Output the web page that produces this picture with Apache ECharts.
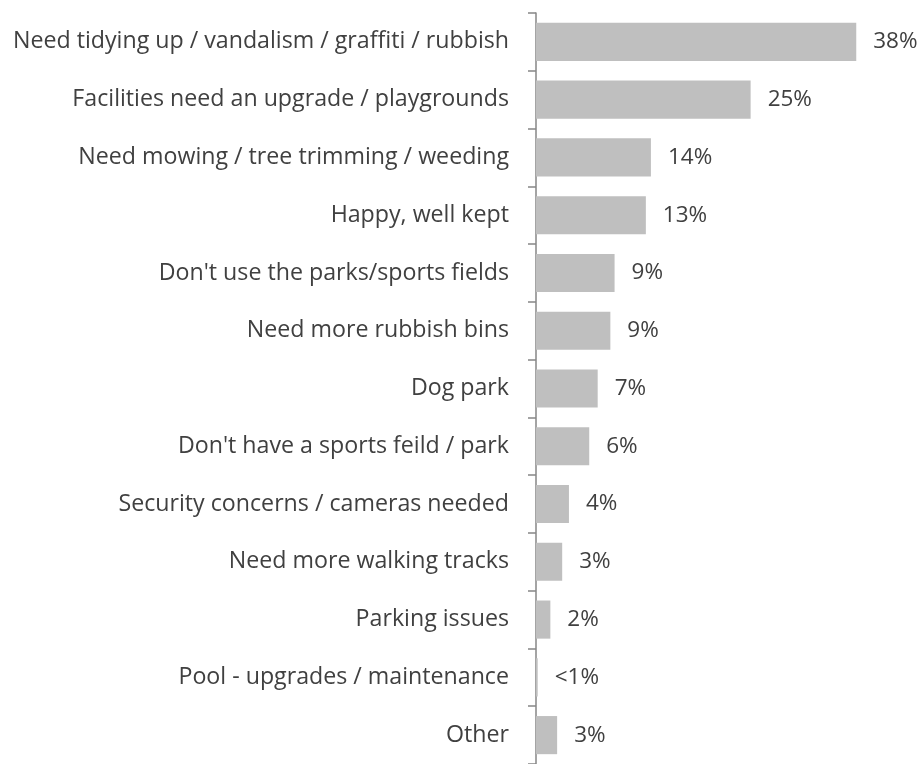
<!DOCTYPE html>
<html>
<head>
<meta charset="utf-8">
<script src="https://cdn.jsdelivr.net/npm/echarts@6/dist/echarts.min.js"></script>
<style>
  html, body { margin: 0; padding: 0; background: #fff; }
  #chart { width: 918px; height: 764px; }
</style>
</head>
<body>
<div id="chart"></div>
<script>
const categories = [
  'Need tidying up / vandalism / graffiti / rubbish',
  'Facilities need an upgrade / playgrounds',
  'Need mowing / tree trimming / weeding',
  'Happy, well kept',
  "Don't use the parks/sports fields",
  'Need more rubbish bins',
  'Dog park',
  "Don't have a sports feild / park",
  'Security concerns / cameras needed',
  'Need more walking tracks',
  'Parking issues',
  'Pool - upgrades / maintenance',
  'Other'
];
// values (percent)
const values = [37.9, 25.4, 13.6, 13.0, 9.3, 8.8, 7.3, 6.3, 3.9, 3.1, 1.7, 0.2, 2.5];
const valueLabels = ['38%', '25%', '14%', '13%', '9%', '9%', '7%', '6%', '4%', '3%', '2%', '<1%', '3%'];

const myChart = echarts.init(document.getElementById('chart'));

const option = {
  animation: false,
  textStyle: { fontFamily: 'Open Sans' },
  grid: {
    left: 536,
    right: 44,
    top: 13,
    bottom: -6,
    containLabel: false
  },
  xAxis: {
    type: 'value',
    min: 0,
    max: 40,
    show: false
  },
  yAxis: {
    type: 'category',
    inverse: true,
    data: categories,
    axisLine: { lineStyle: { color: '#868686', width: 1.5 } },
    axisTick: { show: true, length: 8, lineStyle: { color: '#868686', width: 1.5 } },
    axisLabel: {
      margin: 27,
      color: '#404040',
      fontSize: 23.2,
      fontFamily: 'Open Sans',
      padding: [3, 0, 0, 0]
    }
  },
  series: [{
    type: 'bar',
    data: values,
    barCategoryGap: '34%',
    itemStyle: { color: '#BFBFBF' },
    label: {
      show: true,
      position: 'right',
      distance: 17,
      color: '#404040',
      fontSize: 22.5,
      fontFamily: 'Open Sans',
      padding: [3, 0, 0, 0],
      formatter: (p) => valueLabels[p.dataIndex]
    }
  }]
};

myChart.setOption(option);
</script>
</body>
</html>
